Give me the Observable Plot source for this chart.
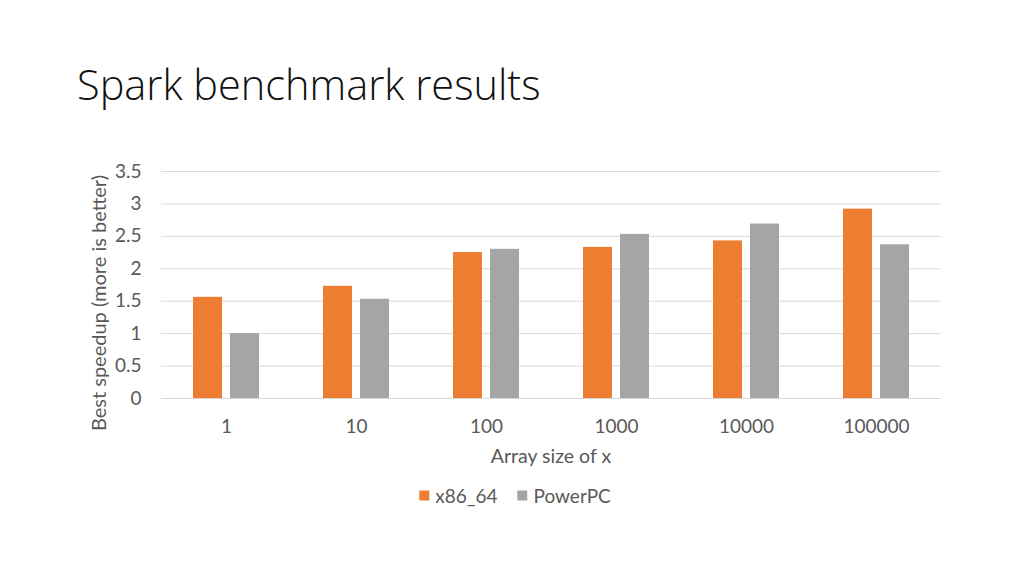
<!DOCTYPE html>
<html>
<head>
<meta charset="utf-8">
<script src="https://cdn.jsdelivr.net/npm/d3@7"></script>
<script src="https://cdn.jsdelivr.net/npm/@observablehq/plot@0.6"></script>
<style>
  html, body { margin: 0; padding: 0; background: #fff; }
  #page { position: relative; width: 1024px; height: 576px; overflow: hidden; font-family: Lato, "Open Sans", sans-serif; }
  #title { position: absolute; left: 77px; top: 56px; font-family: "Open Sans", sans-serif; font-weight: 300; font-size: 41.5px; color: #111; white-space: nowrap; }
  #chart { position: absolute; left: 0; top: 140px; }
  #ylabel { position: absolute; left: 98px; top: 303px; transform: translate(-50%, -50%) rotate(-90deg); font-size: 20px; color: #595959; white-space: nowrap; }
  #xlabel { position: absolute; left: 551px; top: 455px; transform: translate(-50%, -50%); font-size: 19.5px; color: #595959; white-space: nowrap; }
  #legend { position: absolute; left: 515px; top: 495px; transform: translate(-50%, -50%); font-size: 19px; color: #595959; white-space: nowrap; display: flex; align-items: center; gap: 20px; }
  .sw { display: inline-block; width: 10px; height: 10px; margin-right: 6px; vertical-align: middle; }
  .item { display: flex; align-items: center; }
</style>
</head>
<body>
<div id="page">
  <div id="title">Spark benchmark results</div>
  <div id="chart"></div>
  <div id="ylabel">Best speedup (more is better)</div>
  <div id="xlabel">Array size of x</div>
  <div id="legend"></div>
</div>
<script>
const categories = ["1", "10", "100", "1000", "10000", "100000"];
const seriesNames = ["x86_64", "PowerPC"];
const x86Values = [1.56, 1.73, 2.25, 2.33, 2.43, 2.92];
const powerValues = [1.0, 1.53, 2.30, 2.53, 2.69, 2.37];
const yTicks = [0, 0.5, 1, 1.5, 2, 2.5, 3, 3.5];
const colors = ["#ED7D31", "#A5A5A5"];

const data = [];
categories.forEach((c, i) => {
  data.push({cat: c, series: seriesNames[0], value: x86Values[i]});
  data.push({cat: c, series: seriesNames[1], value: powerValues[i]});
});

const chart = Plot.plot({
  width: 1024,
  height: 300,
  marginLeft: 160,
  marginRight: 83,
  marginTop: 31,
  marginBottom: 42,
  style: {fontFamily: "Lato, 'Open Sans', sans-serif", fontSize: "19px", color: "#595959", background: "transparent"},
  fx: {domain: categories, padding: 0, label: null},
  x: {domain: seriesNames, paddingInner: 0.216, paddingOuter: 0.85, axis: null},
  y: {domain: [0, 3.5], label: null},
  color: {domain: seriesNames, range: colors},
  marks: [
    Plot.gridY(yTicks, {stroke: "#d9d9d9", strokeOpacity: 1, strokeWidth: 1}),
    Plot.axisY(yTicks, {tickSize: 0, tickPadding: 20, label: null, fontSize: 19, fill: "#595959", tickFormat: d => String(d)}),
    Plot.axisFx({anchor: "bottom", tickSize: 0, tickPadding: 21, label: null, fontSize: 19, fill: "#595959"}),
    Plot.barY(data, {fx: "cat", x: "series", y: "value", fill: "series"})
  ]
});
document.getElementById("chart").appendChild(chart);

const legend = document.getElementById("legend");
seriesNames.forEach((s, i) => {
  const item = document.createElement("span");
  item.className = "item";
  const sw = document.createElement("span");
  sw.className = "sw";
  sw.style.background = colors[i];
  item.appendChild(sw);
  item.appendChild(document.createTextNode(s));
  legend.appendChild(item);
});
</script>
</body>
</html>
